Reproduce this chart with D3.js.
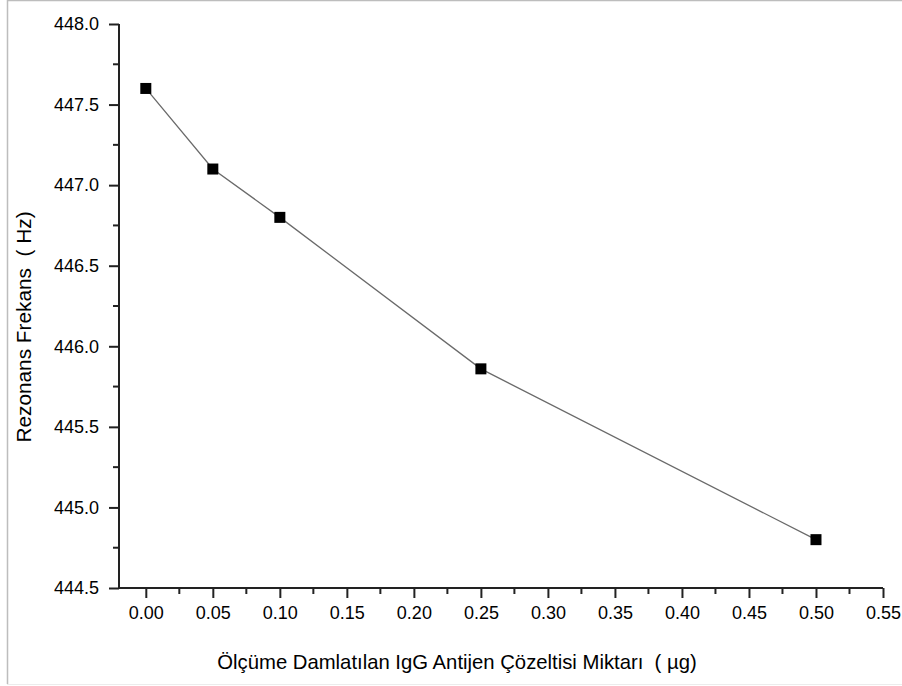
<!DOCTYPE html>
<html>
<head>
<meta charset="utf-8">
<script src="https://cdn.jsdelivr.net/npm/d3@7"></script>
<style>
  body { margin: 0; background: #fff; }
  svg text { font-family: "Liberation Sans", Arial, sans-serif; fill: #000; }
</style>
</head>
<body>
<div class="canvas"></div>
<script>
// data
const amounts = [0.00, 0.05, 0.10, 0.25, 0.50];
const freqs = [447.6, 447.1, 446.8, 445.86, 444.8];
const xTicks = [0, 0.05, 0.10, 0.15, 0.20, 0.25, 0.30, 0.35, 0.40, 0.45, 0.50, 0.55];
const yTicks = [444.5, 445.0, 445.5, 446.0, 446.5, 447.0, 447.5, 448.0];
const xTitle = 'Ölçüme Damlatılan IgG Antijen Çözeltisi Miktarı\u00a0\u00a0( µg)';
const yTitle = 'Rezonans Frekans\u00a0\u00a0( Hz)';

const dims = {width: 902, height: 686};
const plot = {left: 119, right: 883, top: 24, bottom: 588};

const svg = d3.select('.canvas')
    .append('svg')
    .attr('width', dims.width)
    .attr('height', dims.height);

// faint frame round the picture
svg.append('line').attr('x1', 7).attr('x2', 902).attr('y1', 0.5).attr('y2', 0.5)
    .attr('stroke', '#bdbdbd').attr('stroke-width', 1.5);
svg.append('line').attr('x1', 7.5).attr('x2', 7.5).attr('y1', 0).attr('y2', 684)
    .attr('stroke', '#bdbdbd').attr('stroke-width', 1.5);
svg.append('line').attr('x1', 7).attr('x2', 902).attr('y1', 684.5).attr('y2', 684.5)
    .attr('stroke', '#ececec').attr('stroke-width', 1);

const x = d3.scaleLinear().domain([-0.02, 0.55]).range([plot.left, plot.right]);
const y = d3.scaleLinear().domain([444.5, 448.0]).range([plot.bottom, plot.top]);

// minor ticks halfway between majors
const xMinor = d3.range(0.025, 0.55, 0.05);
const yMinor = d3.range(444.75, 448.0, 0.5);

const axisColour = '#222';
const tickFont = 18;

// x axis
const xAxis = svg.append('g')
    .attr('transform', `translate(0,${plot.bottom})`)
    .call(d3.axisBottom(x).tickValues(xTicks).tickFormat(d3.format('.2f'))
        .tickSize(10).tickSizeOuter(0).tickPadding(8));
xAxis.select('.domain').attr('stroke', axisColour).attr('stroke-width', 2)
    .attr('d', `M${plot.left},0H${plot.right}`);
xAxis.selectAll('.tick line').attr('stroke', axisColour).attr('stroke-width', 2);
xAxis.selectAll('.tick text').attr('font-size', tickFont).attr('fill', '#111')
    .style('font-family', '"Liberation Sans", Arial, sans-serif');
xAxis.selectAll('.minor').data(xMinor).enter().append('line')
    .attr('class', 'minor')
    .attr('x1', d => x(d)).attr('x2', d => x(d))
    .attr('y1', 0).attr('y2', 6)
    .attr('stroke', axisColour).attr('stroke-width', 2);

// y axis
const yAxis = svg.append('g')
    .attr('transform', `translate(${plot.left},0)`)
    .call(d3.axisLeft(y).tickValues(yTicks).tickFormat(d3.format('.1f'))
        .tickSize(10).tickSizeOuter(0).tickPadding(10));
yAxis.select('.domain').attr('stroke', axisColour).attr('stroke-width', 2)
    .attr('d', `M0,${plot.top}V${plot.bottom}`);
yAxis.selectAll('.tick line').attr('stroke', axisColour).attr('stroke-width', 2);
yAxis.selectAll('.tick text').attr('font-size', tickFont).attr('fill', '#111')
    .style('font-family', '"Liberation Sans", Arial, sans-serif');
yAxis.selectAll('.minor').data(yMinor).enter().append('line')
    .attr('class', 'minor')
    .attr('x1', -6).attr('x2', 0)
    .attr('y1', d => y(d)).attr('y2', d => y(d))
    .attr('stroke', axisColour).attr('stroke-width', 2);

// titles
svg.append('text')
    .attr('x', 457).attr('y', 669)
    .attr('text-anchor', 'middle')
    .attr('font-size', 20.3)
    .text(xTitle);

svg.append('text')
    .attr('transform', `translate(31,327) rotate(-90)`)
    .attr('text-anchor', 'middle')
    .attr('font-size', 20.8)
    .text(yTitle);

// series
const points = amounts.map((a, i) => ({a, f: freqs[i]}));

const line = d3.line().x(d => x(d.a)).y(d => y(d.f));

svg.append('path')
    .datum(points)
    .attr('d', line)
    .attr('fill', 'none')
    .attr('stroke', '#6a6a6a')
    .attr('stroke-width', 1.3);

const size = 11;
svg.selectAll('rect.pt')
    .data(points)
    .enter().append('rect')
    .attr('class', 'pt')
    .attr('x', d => x(d.a) - size / 2)
    .attr('y', d => y(d.f) - size / 2)
    .attr('width', size)
    .attr('height', size)
    .attr('fill', '#000');
</script>
</body>
</html>
